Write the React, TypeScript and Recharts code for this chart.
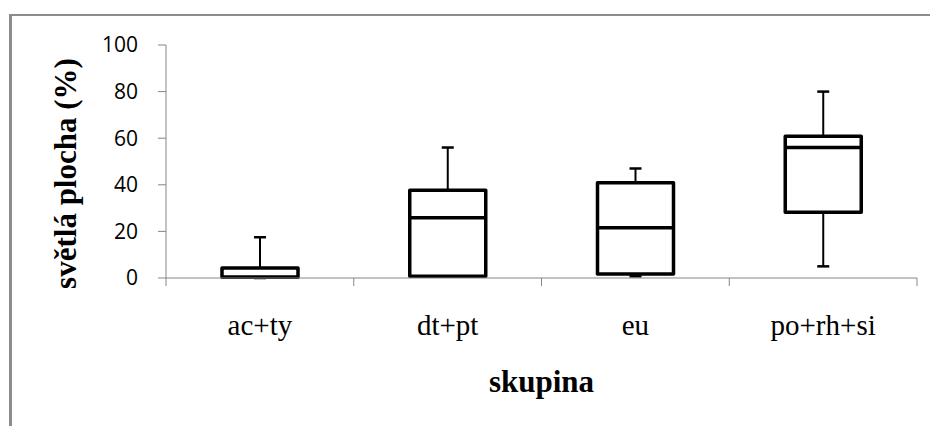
import React from 'react';
import { ComposedChart, Bar, XAxis, YAxis, Label } from 'recharts';

const categories = ['ac+ty', 'dt+pt', 'eu', 'po+rh+si'];
const minValues = [0, 0.7, 0.7, 5];
const q1Values = [0.3, 0.7, 1.7, 28.2];
const medianValues = [0.3, 25.9, 21.6, 56];
const q3Values = [4.3, 37.7, 40.9, 60.8];
const maxValues = [17.5, 56, 47, 80];
const yTicks = [0, 20, 40, 60, 80, 100];

const data = categories.map((name, i) => ({
  name,
  min: minValues[i],
  q1: q1Values[i],
  median: medianValues[i],
  q3: q3Values[i],
  max: maxValues[i],
}));

const AXIS_GRAY = '#868686';
const serifStyle = { fontFamily: "'Liberation Serif', 'Times New Roman', Tinos, 'DejaVu Serif', serif" };

// box drawn from a bar that spans 0..max, so value -> pixel is linear inside it
const BoxShape = (props: any) => {
  const { x, y, width, height, payload } = props;
  const px = (v: number) => y + height * (1 - v / payload.max);
  const cx = x + width / 2;
  const cap = 6;
  const top = px(payload.q3);
  const bottom = px(payload.q1);
  return (
    <g>
      <line x1={cx} x2={cx} y1={px(payload.max)} y2={top} stroke="#000" strokeWidth={2} />
      <line x1={cx - cap} x2={cx + cap} y1={px(payload.max)} y2={px(payload.max)} stroke="#000" strokeWidth={2.5} />
      <line x1={cx} x2={cx} y1={bottom} y2={px(payload.min)} stroke="#000" strokeWidth={2} />
      <line x1={cx - cap} x2={cx + cap} y1={px(payload.min)} y2={px(payload.min)} stroke="#000" strokeWidth={2.5} />
      <rect x={x} y={top} width={width} height={Math.max(bottom - top, 0.5)} fill="#fff" stroke="#000" strokeWidth={3.5} strokeLinejoin="round" />
      <line x1={x} x2={x + width} y1={px(payload.median)} y2={px(payload.median)} stroke="#000" strokeWidth={3.5} />
    </g>
  );
};

const CategoryTick = (props: any) => {
  const { x, y, payload, index } = props;
  const band = (props.width ?? 751) / categories.length;
  const last = index === categories.length - 1;
  return (
    <g>
      <line x1={x - band / 2} x2={x - band / 2} y1={y} y2={y + 8} stroke={AXIS_GRAY} />
      {last && <line x1={x + band / 2} x2={x + band / 2} y1={y} y2={y + 8} stroke={AXIS_GRAY} />}
      <text x={x} y={y + 57} textAnchor="middle" style={{ ...serifStyle, fontSize: 29 }} fill="#000">
        {payload.value}
      </text>
    </g>
  );
};

export default function App() {
  return (
    <div style={{ position: 'absolute', left: 0, top: 0, width: 930, height: 426, background: '#fff', overflow: 'hidden' }}>
      <div
        style={{
          position: 'absolute',
          left: 9,
          top: 14,
          right: -10,
          bottom: -10,
          borderLeft: '3px solid #8c8c8c',
          borderTop: '2px solid #8c8c8c',
        }}
      />
      <ComposedChart
        width={930}
        height={426}
        data={data}
        margin={{ top: 45, right: 13, bottom: 48, left: 0 }}
        style={{ position: 'absolute', left: 0, top: 0 }}
      >
        <XAxis
          dataKey="name"
          height={100}
          axisLine={{ stroke: AXIS_GRAY }}
          tickLine={false}
          tickSize={0}
          tickMargin={0}
          tick={<CategoryTick />}
          interval={0}
        >
          <Label
            content={(p: any) => {
              const vb = p.viewBox;
              return (
                <text
                  x={vb.x + vb.width / 2}
                  y={vb.y + 114}
                  textAnchor="middle"
                  style={{ ...serifStyle, fontWeight: 'bold', fontSize: 31 }}
                  fill="#000"
                >
                  skupina
                </text>
              );
            }}
          />
        </XAxis>
        <YAxis
          width={166}
          domain={[0, 100]}
          ticks={yTicks}
          interval={0}
          axisLine={{ stroke: AXIS_GRAY }}
          tickLine={{ stroke: AXIS_GRAY }}
          tickSize={8}
          tickMargin={20}
          tick={{ fontFamily: '"Open Sans", sans-serif', fontSize: 21, fill: '#000' }}
        >
          <Label
            content={(p: any) => {
              const vb = p.viewBox;
              const cx = vb.x + 65;
              const cy = vb.y + vb.height / 2 + 12;
              return (
                <text
                  x={cx}
                  y={cy}
                  transform={`rotate(-90 ${cx} ${cy})`}
                  textAnchor="middle"
                  dominantBaseline="central"
                  style={{ ...serifStyle, fontWeight: 'bold', fontSize: 31 }}
                  fill="#000"
                >
                  světlá plocha (%)
                </text>
              );
            }}
          />
        </YAxis>
        <Bar dataKey="max" barSize={76} shape={<BoxShape />} isAnimationActive={false} />
      </ComposedChart>
    </div>
  );
}
